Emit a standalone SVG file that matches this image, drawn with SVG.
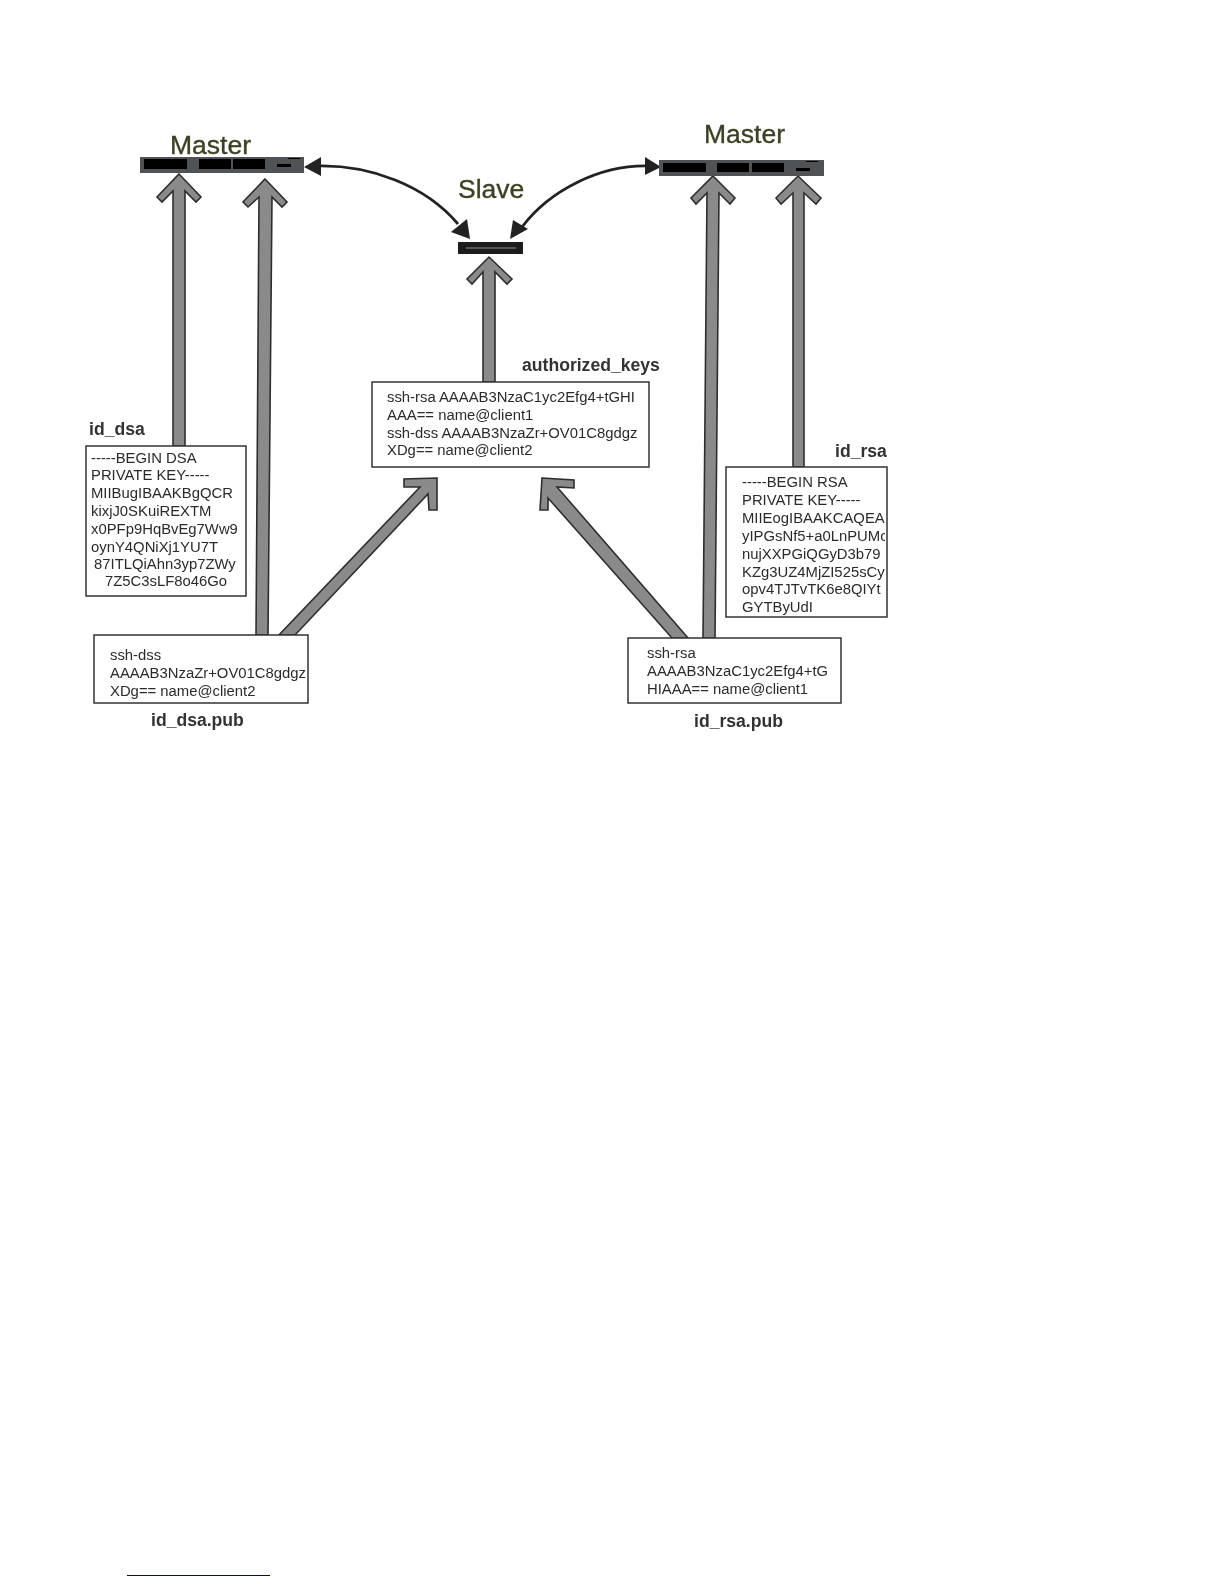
<svg xmlns="http://www.w3.org/2000/svg" width="1224" height="1584" viewBox="0 0 1224 1584">
<style>
text{font-family:"Liberation Sans",Arial,sans-serif;fill:#2b2b2b}
.t{font-size:14.85px}
.l{font-size:17.6px;font-weight:bold;fill:#333}
.h{font-size:26.5px;fill:#3c4020;stroke:#3c4020;stroke-width:.35}
.box{fill:#fff;stroke:#333;stroke-width:1.5}
.ar{fill:#8a8a8a;stroke:#2e2e2e;stroke-width:1.6;stroke-linejoin:miter}
.bar{fill:#505256}
.blk{fill:#050505}
.cv{fill:none;stroke:#222;stroke-width:2.8}
.hd{fill:#222}
</style>
<defs>
<clipPath id="rsaclip"><rect x="726" y="467" width="159" height="150"/></clipPath>
<filter id="soft" filterUnits="userSpaceOnUse" x="0" y="0" width="1224" height="1584"><feGaussianBlur stdDeviation="0.35"/></filter>
</defs>
<rect width="1224" height="1584" fill="#fff"/>
<g filter="url(#soft)">
<g id="connectors">
<polygon class="ar" points="179,174 201,197 196,202 185,191 185,446 173,446 173,191 162,202 157,197"/>
<polygon class="ar" points="265,179 287,202 282,207 272,197 268,635 256,635 259,197 248,207 243,202"/>
<polygon class="ar" points="489,257 512,279 507,284 495,272 495,382 483,382 483,272 472,284 467,279"/>
<polygon class="ar" points="713,176 735,198 730,204 719,193 715,638 703,638 707,193 696,204 691,198"/>
<polygon class="ar" points="798,176 821,198 816,204 804,193 804,467 793,467 793,193 781,204 776,198"/>
<polygon class="ar" points="437,478 437,510 429,510 428,494 295,635 279,635 420,487 404,487 404,479"/>
<polygon class="ar" points="542,478 574,480 574,488 557,487 688,638 672,638 548,498 548,510 540,510"/>
<path class="cv" d="M318,166 C370,165 425,185 458,224"/>
<polygon class="hd" points="304,167 321,157 321,176"/>
<polygon class="hd" points="470,239 451,232 467,219"/>
<path class="cv" d="M648,166 C600,165 550,190 522,227"/>
<polygon class="hd" points="661,167 645,157 645,175"/>
<polygon class="hd" points="510,239 513,220 528,229"/>
</g>
<g id="master-left">
<rect class="bar" x="140" y="157" width="164" height="16"/>
<rect class="blk" x="144" y="159" width="43" height="10"/>
<rect class="blk" x="199" y="159" width="32" height="10"/>
<rect class="blk" x="233" y="159" width="32" height="10"/>
<rect class="blk" x="277" y="164" width="14" height="3"/>
<rect class="blk" x="288" y="158" width="12" height="1"/>
<text class="h" x="170" y="154">Master</text>
</g>
<g id="master-right">
<rect class="bar" x="659" y="160" width="165" height="16"/>
<rect class="blk" x="663" y="163" width="43" height="9"/>
<rect class="blk" x="717" y="163" width="32" height="9"/>
<rect class="blk" x="752" y="163" width="32" height="9"/>
<rect class="blk" x="796" y="168" width="14" height="3"/>
<rect class="blk" x="806" y="161" width="12" height="1"/>
<text class="h" x="704" y="143">Master</text>
</g>
<g id="slave">
<rect x="458" y="242" width="65" height="12" fill="#1e1e1e"/>
<rect x="466" y="247" width="50" height="2" fill="#555"/>
<text class="h" x="458" y="198">Slave</text>
</g>
<g id="authorized_keys">
<rect class="box" x="372" y="382" width="277" height="85"/>
<text class="t" x="387" y="402">ssh-rsa AAAAB3NzaC1yc2Efg4+tGHI</text>
<text class="t" x="387" y="420">AAA== name@client1</text>
<text class="t" x="387" y="438">ssh-dss AAAAB3NzaZr+OV01C8gdgz</text>
<text class="t" x="387" y="455">XDg== name@client2</text>
<text class="l" x="522" y="371">authorized_keys</text>
</g>
<g id="id_dsa">
<rect class="box" x="86" y="446" width="160" height="150"/>
<text class="t" x="91" y="463">-----BEGIN DSA</text>
<text class="t" x="91" y="480">PRIVATE KEY-----</text>
<text class="t" x="91" y="498">MIIBugIBAAKBgQCR</text>
<text class="t" x="91" y="516">kixjJ0SKuiREXTM</text>
<text class="t" x="91" y="534">x0PFp9HqBvEg7Ww9</text>
<text class="t" x="91" y="552">oynY4QNiXj1YU7T</text>
<text class="t" x="94" y="569">87ITLQiAhn3yp7ZWy</text>
<text class="t" x="105" y="586">7Z5C3sLF8o46Go</text>
<text class="l" x="89" y="435">id_dsa</text>
</g>
<g id="id_dsa_pub">
<rect class="box" x="94" y="635" width="214" height="68"/>
<text class="t" x="110" y="660">ssh-dss</text>
<text class="t" x="110" y="678">AAAAB3NzaZr+OV01C8gdgz</text>
<text class="t" x="110" y="696">XDg== name@client2</text>
<text class="l" x="151" y="726">id_dsa.pub</text>
</g>
<g id="id_rsa">
<rect class="box" x="726" y="467" width="161" height="150"/>
<g clip-path="url(#rsaclip)">
<text class="t" x="742" y="487">-----BEGIN RSA</text>
<text class="t" x="742" y="505">PRIVATE KEY-----</text>
<text class="t" x="742" y="523">MIIEogIBAAKCAQEA</text>
<text class="t" x="742" y="541">yIPGsNf5+a0LnPUMc</text>
<text class="t" x="742" y="559">nujXXPGiQGyD3b79</text>
<text class="t" x="742" y="577">KZg3UZ4MjZI525sCy</text>
<text class="t" x="742" y="594">opv4TJTvTK6e8QIYt</text>
<text class="t" x="742" y="612">GYTByUdI</text>
</g>
<text class="l" x="835" y="457">id_rsa</text>
</g>
<g id="id_rsa_pub">
<rect class="box" x="628" y="638" width="213" height="65"/>
<text class="t" x="647" y="658">ssh-rsa</text>
<text class="t" x="647" y="676">AAAAB3NzaC1yc2Efg4+tG</text>
<text class="t" x="647" y="694">HIAAA== name@client1</text>
<text class="l" x="694" y="727">id_rsa.pub</text>
</g>
</g>
<rect x="127" y="1575" width="143" height="1" fill="#000080"/>
</svg>
